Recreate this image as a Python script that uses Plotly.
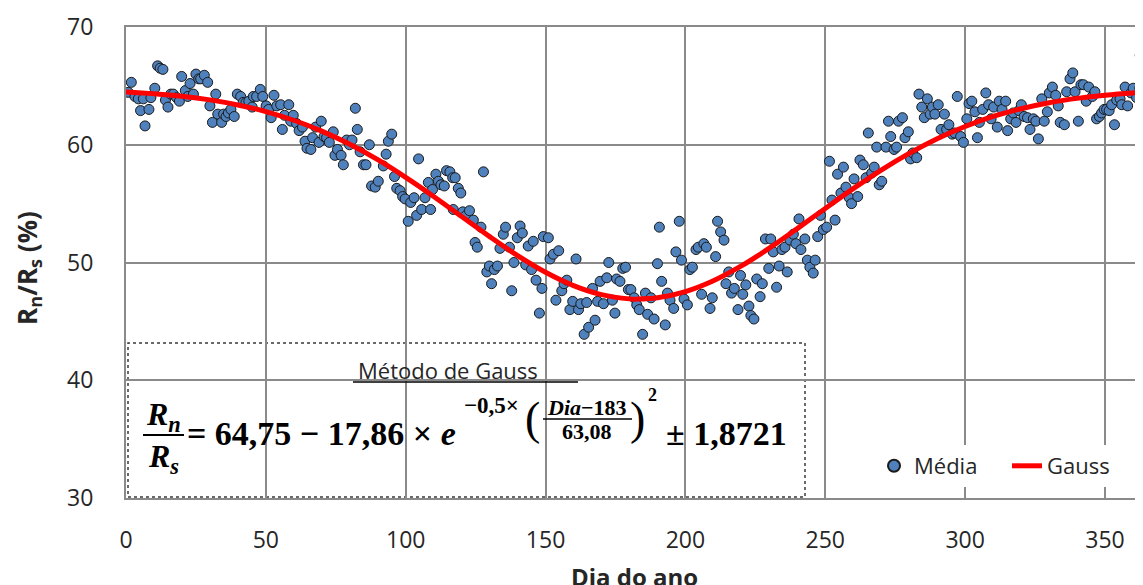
import plotly.graph_objects as go

# ---------------- data ----------------
dia = [
    0.8, 1.9, 3.2, 4.4, 5.2, 6.2, 6.8, 8.2, 8.9, 10.3, 11.3, 12.2, 13.2, 14.1, 15.0, 16.0, 16.9, 18.1, 19.1, 19.9,
    21.2, 22.1, 22.9, 24.1, 25.0, 26.0, 26.7, 28.0, 29.2, 30.0, 30.9, 32.1, 32.8, 34.2, 34.9, 35.8, 36.6, 37.5, 38.7, 39.8,
    41.0, 41.9, 42.9, 43.9, 45.1, 45.5, 46.7, 48.0, 48.9, 50.1, 51.0, 51.9, 52.9, 53.9, 55.3, 55.9, 56.7, 58.2, 58.9, 59.8,
    61.0, 61.9, 63.1, 64.0, 64.7, 66.1, 66.7, 67.8, 69.0, 69.8, 70.8, 71.7, 72.7, 74.1, 74.7, 75.6, 76.9, 77.7, 78.9, 79.9,
    80.8, 82.0, 82.7, 83.7, 84.9, 85.8, 87.0, 87.8, 89.1, 90.2,
    92.0, 93.0, 93.8, 95.0, 96.0, 96.8, 98.0, 98.9, 99.8, 100.9, 101.8, 103.0, 103.9, 104.6, 105.7, 106.9, 108.1, 108.9,
    109.6, 110.8, 111.7, 112.6, 113.8, 114.6, 115.8, 116.8, 117.0, 117.7, 118.8, 119.7, 120.4, 121.6, 122.8, 124.2, 124.8,
    125.6, 126.9, 127.8, 129.0, 129.9, 130.7, 131.7, 132.8, 133.7, 134.9, 135.7, 137.1, 137.9, 138.7, 139.9, 140.9, 141.7,
    142.9, 143.8, 145.0, 145.6, 146.6, 147.8, 148.7, 149.2, 151.0, 151.6, 152.8, 153.7, 154.7, 155.8, 156.6, 157.6, 158.7,
    159.7, 160.9, 161.8, 162.6, 163.8, 164.7, 165.4, 166.8, 167.7, 168.6, 169.5, 170.7, 171.9, 172.6, 173.9, 174.8, 175.4,
    176.6,
    177.6, 178.6, 179.6, 180.5, 181.7, 182.6, 183.5, 184.7, 185.7, 186.5, 187.7, 188.8, 190.0, 190.7, 191.5, 192.8, 193.6,
    194.5, 195.8, 196.6, 197.8, 198.6, 199.5, 200.7, 201.6, 202.5, 203.8, 204.6, 205.8, 206.6, 207.5, 208.8, 209.6, 210.8,
    211.5, 212.6, 213.8, 214.5, 215.5, 216.5, 217.5, 218.8, 219.7, 220.5, 221.6, 222.7, 223.4, 224.5, 225.5, 226.7, 227.5,
    228.6, 229.8, 230.5, 231.4, 232.6, 233.5, 234.5, 235.6, 236.4, 237.4, 238.6, 239.5, 240.6, 241.3, 242.7, 243.6, 244.5,
    245.7, 246.4, 247.3, 248.3, 249.3, 250.5, 251.5, 252.4, 253.5,
    254.4, 255.6, 256.5, 257.4, 258.6, 259.4, 260.3, 261.6, 262.4, 263.6, 264.6, 265.4, 266.6, 267.5, 268.4, 269.3, 270.2,
    271.7, 272.6, 273.4, 274.6, 275.5, 276.2, 277.6, 278.5, 279.7, 280.5, 281.3, 282.7, 283.5, 284.5, 285.4, 286.5, 287.5,
    288.3, 289.2, 290.4, 291.4, 292.6, 293.4, 294.2, 295.4, 296.3, 297.2, 298.4, 299.4, 300.6, 301.4, 302.4, 303.5, 304.4,
    305.1, 306.3, 307.4, 308.4, 309.3, 310.2, 311.5, 312.2, 313.2, 314.5, 315.2, 316.3, 317.2, 318.2, 319.2, 320.1, 321.1,
    322.3, 323.2, 324.4, 325.3, 326.2, 327.4, 328.3, 329.4, 330.1, 331.2, 332.4, 333.3, 334.0, 335.5, 336.3, 337.5, 338.5,
    339.3, 340.5, 341.4, 342.3, 343.3, 344.2, 345.5, 346.4, 347.0, 348.0, 348.8, 349.7, 350.6, 351.5, 352.4, 353.4, 354.2,
    355.4, 356.0, 357.2, 358.1, 359.3, 360.1, 361.3, 362.5, 363.6, 362.6,
]
media = [
    64.45, 65.3, 64.1, 63.9, 62.9, 63.9, 61.6, 63.0, 64.0, 64.8, 66.7, 66.5, 66.4, 63.8, 63.2, 64.3, 64.3, 64.0, 63.7, 65.8,
    64.6, 64.1, 65.2, 64.3, 66.0, 65.6, 65.6, 65.9, 65.3, 63.3, 61.9, 64.3, 62.6, 61.9, 62.6, 62.4, 62.7, 63.0, 62.4, 64.3,
    64.1, 63.6, 63.6, 63.7, 63.2, 64.1, 64.1, 64.7, 64.1, 63.3, 63.0, 62.3, 64.2, 63.3, 63.4, 61.3, 62.5, 63.4, 62.0, 62.5,
    61.8, 61.2, 61.5, 60.3, 59.7, 59.6, 60.6, 61.5, 60.2, 62.0, 60.7, 60.6, 60.2, 61.1, 59.1, 59.6, 59.1, 58.3, 60.4, 60.0,
    60.4, 63.1, 61.3, 59.4, 58.3, 58.3, 60.0, 56.5, 56.4, 56.9,
    58.2, 59.2, 60.3, 60.9, 57.3, 56.3, 56.1, 55.6, 55.4, 53.5, 55.1, 55.5, 54.0, 58.8, 54.5, 55.5, 56.8, 54.5,
    56.2, 57.5, 56.9, 56.6, 56.5, 57.8, 57.7, 57.2, 54.5, 57.2, 56.3, 55.9, 54.3, 54.0, 54.4, 53.6, 51.7,
    51.3, 53.0, 57.7, 49.2, 49.7, 48.2, 49.4, 49.7, 51.2, 52.4, 53.0, 51.3, 47.6, 50.0, 52.1, 53.1, 52.5,
    49.8, 51.4, 49.4, 51.8, 48.5, 45.7, 47.8, 52.2, 52.1, 50.3, 50.7, 46.8, 51.0, 47.6, 48.2, 48.5, 46.0,
    46.7, 50.3, 46.0, 46.5, 43.9, 46.6, 44.5, 47.8, 45.1, 46.7, 48.4, 46.5, 48.7, 50.0, 46.8, 45.7, 48.6,
    48.4,
    49.5, 49.6, 47.7, 47.7, 47.0, 46.4, 46.0, 43.9, 47.4, 45.6, 47.0, 45.2, 49.9, 53.0, 48.4, 44.7, 47.4,
    46.8, 46.1, 50.9, 53.5, 50.2, 46.9, 46.4, 49.4, 49.6, 51.1, 51.3, 47.3, 51.6, 51.3, 46.1, 47.0, 50.5,
    53.5, 52.6, 51.9, 48.2, 49.2, 47.4, 47.8, 46.0, 48.9, 47.3, 48.1, 46.3, 45.5, 45.2, 48.6, 47.1, 48.2,
    52.0, 49.5, 52.0, 50.9, 47.9, 49.7, 51.1, 51.3, 49.2, 51.9, 52.4, 51.6, 53.7, 51.1, 52.0, 50.2, 49.6,
    49.1, 50.2, 52.2, 54.0, 52.8, 53.0, 58.6, 55.3, 53.6,
    57.5, 55.9, 58.1, 56.4, 55.5, 55.0, 57.1, 55.6, 58.7, 58.3, 57.2, 61.0, 57.6, 58.1, 59.8, 56.6, 56.9,
    59.8, 62.0, 60.7, 59.6, 59.8, 62.0, 62.3, 60.6, 61.1, 58.8, 59.3, 58.9, 64.3, 63.2, 62.3, 63.9, 62.6,
    63.2, 62.6, 63.4, 61.3, 62.6, 61.3, 61.7, 60.9, 61.0, 64.1, 60.7, 60.2, 62.2, 63.5, 63.7, 62.8, 60.6,
    61.9, 63.0, 64.4, 63.4, 62.2, 63.2, 61.5, 63.7, 63.0, 63.7, 61.2, 62.2, 62.7, 61.9, 62.9, 63.4, 62.4,
    62.3, 61.3, 62.2, 62.0, 60.5, 63.9, 62.0, 62.8, 64.4, 64.9, 64.2, 63.3, 61.9, 61.7, 64.5, 65.6, 66.1,
    64.5, 62.0, 65.1, 65.1, 63.7, 64.9, 64.1, 64.5, 62.2, 62.4, 62.7, 63.0, 63.0, 62.9, 63.4, 61.7, 63.8,
    63.9, 63.4, 64.9, 63.3, 64.4, 64.8, 64.0, 64.8, 64.8, 67.6,
]

gauss_dia = [0, 10, 20, 30, 40, 50, 60, 70, 80, 90, 100, 110, 120, 130, 140, 150, 160, 170, 180, 183,
             190, 200, 210, 220, 230, 240, 250, 260, 270, 280, 290, 300, 310, 320, 330, 340, 350, 360, 370]
gauss_val = [64.48, 64.33, 64.12, 63.81, 63.38, 62.82, 62.08, 61.16, 60.04, 58.73, 57.23, 55.61, 53.90, 52.20,
             50.59, 49.17, 48.04, 47.27, 46.91, 46.89, 47.00, 47.53, 48.45, 49.71, 51.22, 52.88, 54.59, 56.27,
             57.85, 59.27, 60.51, 61.55, 62.40, 63.06, 63.57, 63.94, 64.21, 64.40, 64.53]

x_ticks = [0, 50, 100, 150, 200, 250, 300, 350]
y_ticks = [30, 40, 50, 60, 70]

# ---------------- layout helpers ----------------
# the page body has an 8px margin, so the figure is drawn 8px right/down
OFF = 8
VW, VH = 1143, 585                # viewport size
PL, PT, PR, PB = 126, 27, 1143, 498   # plot area in viewport pixels
W, H = VW - OFF, VH - OFF
L, T = PL - OFF, PT - OFF
PW, PH = PR - PL, PB - PT
B = H - T - PH


def px(x):
    return (x - PL) / PW


def py(y):
    return (PB - y) / PH


GRID = "#8a8a8a"
TXT = "#262626"
SANS = "Open Sans"
SERIF = "Liberation Serif"

fig = go.Figure()
fig.add_trace(go.Scatter(
    x=dia, y=media, mode="markers", name="Média",
    marker=dict(size=10, color="#4F81BD", line=dict(width=1, color="#1a1a1a")),
))
fig.add_trace(go.Scatter(
    x=gauss_dia, y=gauss_val, mode="lines", name="Gauss",
    line=dict(color="#FF0000", width=5, shape="spline"),
))

fig.update_layout(
    width=W, height=H,
    margin=dict(l=L, r=0, t=T, b=B, autoexpand=False),
    paper_bgcolor="white", plot_bgcolor="white",
    font=dict(family=SANS, size=22, color=TXT),
    showlegend=True,
    legend=dict(orientation="h", x=px(874), y=py(445), xanchor="left", yanchor="top",
                bgcolor="white", font=dict(family=SANS, size=22, color=TXT),
                itemsizing="constant", traceorder="normal",
                entrywidth=88, entrywidthmode="pixels"),
    xaxis=dict(range=[0, 363.6], tickvals=x_ticks, showgrid=True, gridcolor=GRID, gridwidth=2,
               zeroline=False, showline=True, linecolor=GRID, linewidth=2, mirror=True,
               ticks="", tickfont=dict(family=SANS, size=23, color=TXT), ticklabelstandoff=20),
    yaxis=dict(range=[30, 70], tickvals=y_ticks, showgrid=True, gridcolor=GRID, gridwidth=2,
               zeroline=False, showline=True, linecolor=GRID, linewidth=2,
               ticks="", tickfont=dict(family=SANS, size=23, color=TXT), ticklabelstandoff=26),
)

shapes = [
    # equation box
    dict(type="rect", xref="paper", yref="paper", x0=px(128), x1=px(805), y0=py(497), y1=py(343),
         fillcolor="white", line=dict(color="#3a3a3a", width=1.5, dash="dot"), layer="between"),
    # underline of the title
    dict(type="line", xref="paper", yref="paper", x0=px(353), x1=px(578), y0=py(382), y1=py(382),
         line=dict(color="black", width=1.5)),
    # fraction bar Rn/Rs
    dict(type="line", xref="paper", yref="paper", x0=px(143), x1=px(184), y0=py(435), y1=py(435),
         line=dict(color="black", width=2)),
    # fraction bar (Dia-183)/63,08
    dict(type="line", xref="paper", yref="paper", x0=px(543), x1=px(632), y0=py(419), y1=py(419),
         line=dict(color="black", width=1.5)),
]
fig.update_layout(shapes=shapes)


def ann(text, x, y, size, family=SERIF, xanchor="center", yanchor="middle", color="black", angle=0):
    fig.add_annotation(text=text, xref="paper", yref="paper", x=px(x), y=py(y), showarrow=False,
                       xanchor=xanchor, yanchor=yanchor, textangle=angle,
                       font=dict(family=family, size=size, color=color))


# axis titles
ann("<b>R<sub>n</sub>/R<sub>s</sub> (%)</b>", 28, 268, 26, family=SANS, color=TXT, angle=-90)
ann("<b>Dia do ano</b>", 634, 576, 24, family=SANS, color=TXT)

# equation box content
ann("Método de Gauss", 448, 370, 22, family=SANS, color=TXT)
ann("<b><i>R</i></b><sub><b><i>n</i></b></sub>", 163, 416, 32)
ann("<b><i>R</i></b><sub><b><i>s</i></b></sub>", 163, 458, 32)
ann("<b>= 64,75 − 17,86 × <i>e</i></b>", 185, 433, 34, xanchor="left")
ann("<b>−0,5×</b>", 462, 405, 23, xanchor="left")
ann("(", 532, 418, 46)
ann("<b><i>Dia</i>−183</b>", 587, 407, 22)
ann("<b>63,08</b>", 587, 431, 22)
ann(")", 637, 418, 46)
ann("<b>2</b>", 652, 395, 18)
ann("<b>± 1,8721</b>", 664, 433, 34, xanchor="left")

fig.write_html("out.html")
